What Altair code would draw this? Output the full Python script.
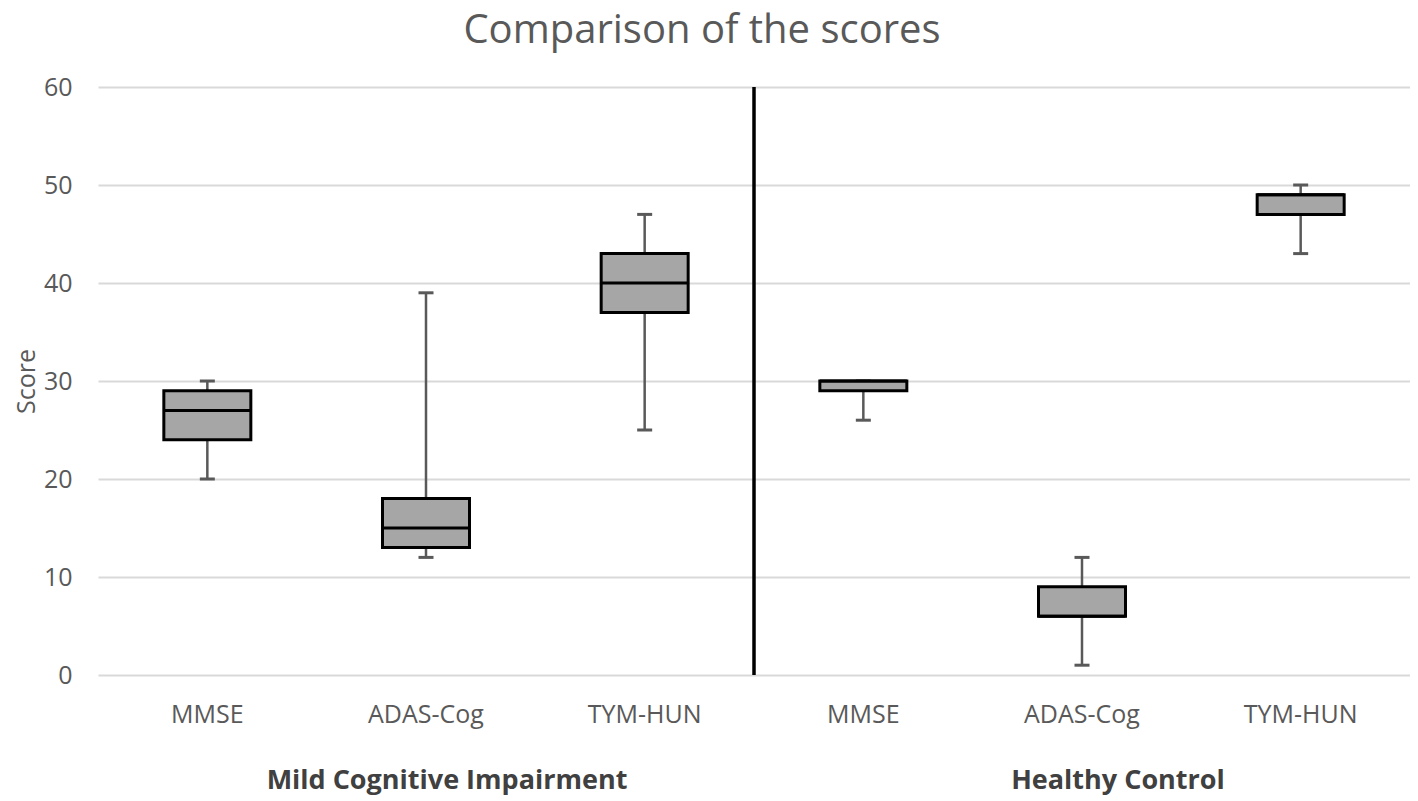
import altair as alt
import pandas as pd

groups = ["Mild Cognitive Impairment"] * 3 + ["Healthy Control"] * 3
tests = ["MMSE", "ADAS-Cog", "TYM-HUN", "MMSE", "ADAS-Cog", "TYM-HUN"]
mins = [20, 12, 25, 26, 1, 43]
q1s = [24, 13, 37, 29, 6, 47]
medians = [27, 15, 40, 30, 6, 49]
q3s = [29, 18, 43, 30, 9, 49]
maxs = [30, 39, 47, 30, 12, 50]

group_names = ["Mild Cognitive Impairment", "Healthy Control"]
group_label_at = ["ADAS-Cog", "ADAS-Cog"]

keys = [g + "|" + t for g, t in zip(groups, tests)]
df = pd.DataFrame({"key": keys, "test": tests, "min": mins, "q1": q1s,
                   "median": medians, "q3": q3s, "max": maxs})
gdf = pd.DataFrame({"group": group_names,
                    "key": [g + "|" + t for g, t in zip(group_names, group_label_at)]})
div_df = pd.DataFrame({"key": [group_names[1] + "|" + tests[3]]})

W, H = 1312, 588
FONT = "Open Sans"
GREY = "#595959"

xscale = alt.Scale(domain=keys, paddingInner=0, paddingOuter=0)
xenc = alt.X("key:N", scale=xscale,
             axis=alt.Axis(title=None, labelExpr="split(datum.label, '|')[1]",
                           labelAngle=0, labelPadding=27, grid=False))
xplain = alt.X("key:N", scale=xscale, title=None)
yscale = alt.Scale(domain=[0, 60])
yplain = lambda f: alt.Y(f, scale=yscale, title="Score")

base = alt.Chart(df)

whisk = base.mark_rule(color=GREY, strokeWidth=2.5).encode(
    x=xenc,
    y=alt.Y("min:Q", scale=yscale,
            axis=alt.Axis(title="Score", values=[0, 10, 20, 30, 40, 50, 60],
                          titlePadding=4, labelPadding=26,
                          gridColor="#d9d9d9", gridWidth=2)),
    y2="max:Q")

caps_lo = base.mark_tick(color=GREY, thickness=3, size=15, opacity=1).encode(
    x=xplain, y=yplain("min:Q"))
caps_hi = base.mark_tick(color=GREY, thickness=3, size=15, opacity=1).encode(
    x=xplain, y=yplain("max:Q"))

box = base.mark_bar(size=87, fill="#a6a6a6", stroke="black", strokeWidth=3,
                    opacity=1).encode(x=xplain, y=yplain("q1:Q"), y2="q3:Q")

med = base.mark_tick(color="black", thickness=3, size=87, opacity=1).encode(
    x=xplain, y=yplain("median:Q"))

divider = alt.Chart(div_df).mark_rule(color="black", strokeWidth=3.5).encode(
    x=alt.X("key:N", scale=xscale, title=None, bandPosition=0),
    y=alt.value(0), y2=alt.value(H))

def group_label(name, shift):
    return alt.Chart(gdf).transform_filter(
        alt.datum.group == name
    ).mark_text(fontSize=27, fontWeight="bold", font=FONT, color="#404040",
                dx=shift).encode(
        x=xplain, y=alt.value(H + 106), text="group:N")

gl1 = group_label(group_names[0], 21)
gl2 = group_label(group_names[1], 36)

chart = alt.layer(whisk, caps_lo, caps_hi, box, med, divider, gl1, gl2).properties(
    width=W, height=H,
    title=alt.TitleParams("Comparison of the scores", fontSize=40, font=FONT,
                          fontWeight="normal", color=GREY, anchor="middle",
                          offset=24, dx=-52),
    autosize=alt.AutoSizeParams(type="none"),
    padding={"left": 90, "top": 79, "right": 0, "bottom": 126},
).configure_view(stroke=None).configure_axis(
    labelFontSize=25, labelColor=GREY, labelFont=FONT,
    titleFontSize=25, titleColor=GREY, titleFont=FONT, titleFontWeight="normal",
    ticks=False, domain=False,
)

chart.save("out.html", embed_options={"renderer": "svg", "actions": False})
